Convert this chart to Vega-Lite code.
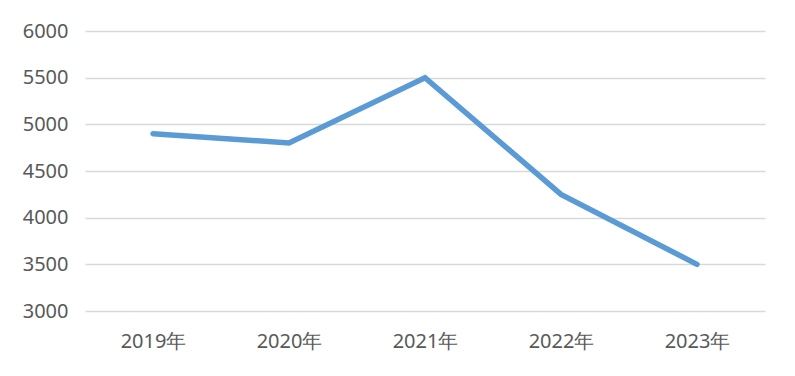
{
  "$schema": "https://vega.github.io/schema/vega-lite/v6.json",
  "width": 680,
  "height": 280,
  "autosize": {"type": "none"},
  "padding": {"left": 85, "top": 31, "right": 30, "bottom": 65},
  "background": "white",
  "config": {
    "view": {"stroke": null},
    "font": "Noto Sans",
    "axis": {"labelFont": "Noto Sans", "labelFontSize": 20, "labelColor": "#595959", "title": null}
  },
  "data": {
    "values": [
      {"year": "2019年", "value": 4900},
      {"year": "2020年", "value": 4800},
      {"year": "2021年", "value": 5500},
      {"year": "2022年", "value": 4250},
      {"year": "2023年", "value": 3500}
    ]
  },
  "mark": {"type": "line", "color": "#5B9BD5", "strokeWidth": 5.5, "strokeCap": "round", "strokeJoin": "miter"},
  "encoding": {
    "x": {
      "field": "year", "type": "nominal", "sort": null,
      "scale": {"type": "point", "padding": 0.5},
      "axis": {"labelAngle": 0, "domain": false, "ticks": false, "labelPadding": 20, "grid": false}
    },
    "y": {
      "field": "value", "type": "quantitative",
      "scale": {"domain": [3000, 6000], "nice": false, "zero": false},
      "axis": {"values": [3000, 3500, 4000, 4500, 5000, 5500, 6000], "format": "d", "domain": false, "ticks": false, "labelPadding": 17, "gridColor": "#D9D9D9", "gridWidth": 1.3}
    }
  }
}
